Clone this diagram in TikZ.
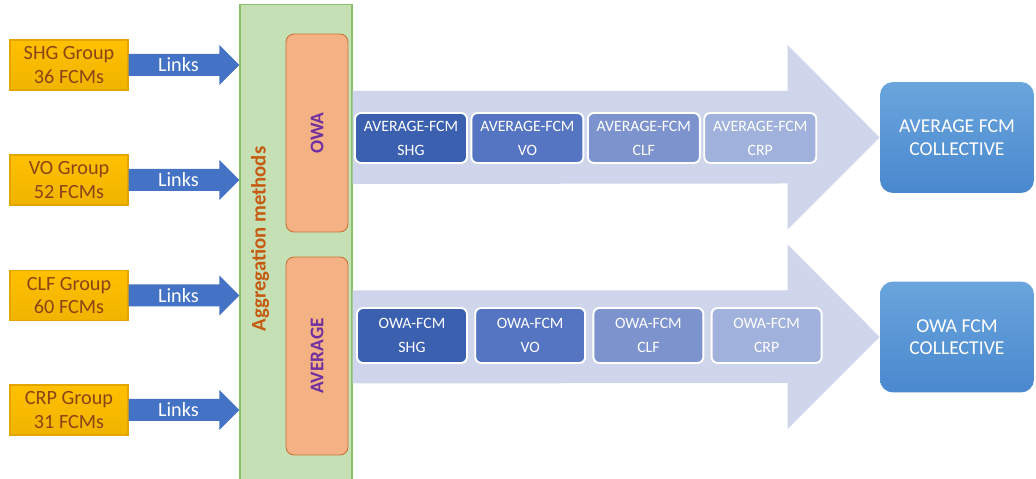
\documentclass[tikz,border=0pt]{standalone}
\usepackage{fontspec}
\setmainfont{Carlito}
\usepackage{tikz}
\usetikzlibrary{positioning,calc}
\definecolor{grpyel}{HTML}{FFC000}
\definecolor{grpyeldk}{HTML}{F0B400}
\definecolor{grpline}{HTML}{E3A600}
\definecolor{grptxt}{HTML}{8A4416}
\definecolor{lnkblue}{HTML}{4472C4}
\definecolor{aggfill}{HTML}{C5E0B4}
\definecolor{aggline}{HTML}{8CBF6B}
\definecolor{aggtxt}{HTML}{C55A11}
\definecolor{methfill}{HTML}{F4B183}
\definecolor{methline}{HTML}{C8733A}
\definecolor{methtxt}{HTML}{7030A0}
\definecolor{flowfill}{HTML}{CFD5EA}
\definecolor{fcmA}{HTML}{3B60AF}
\definecolor{fcmB}{HTML}{5574C1}
\definecolor{fcmC}{HTML}{7D93CE}
\definecolor{fcmD}{HTML}{A0B1DC}
\definecolor{colltop}{HTML}{6AA5DC}
\definecolor{collbot}{HTML}{4A88CF}
\begin{document}
\begin{tikzpicture}[
  x=0.02cm, y=0.02cm,
  font=\fontsize{11.5}{13.6}\selectfont,
  grp/.style={draw=grpline, line width=0.6pt, top color=grpyel, bottom color=grpyeldk,
    text=grptxt, align=center, inner sep=0pt, minimum width=2.36cm, minimum height=1cm},
  lnk/.style={fill=lnkblue},
  lnktxt/.style={text=white, inner sep=0pt},
  panel/.style={draw=aggline, line width=0.6pt, fill=aggfill, minimum width=2.24cm, minimum height=9.5cm},
  meth/.style={draw=methline, line width=0.5pt, fill=methfill, rounded corners=0.16cm,
    minimum width=1.24cm, text=methtxt, font=\fontsize{11}{13}\selectfont\bfseries},
  flow/.style={fill=flowfill},
  fcm/.style={draw=white, line width=1.1pt, rounded corners=0.12cm, text=white, align=center,
    inner sep=0pt, font=\fontsize{9}{13.7}\selectfont},
  fcmtop/.style={fcm, minimum width=2.24cm, minimum height=1cm},
  fcmbot/.style={fcm, minimum width=2.2cm, minimum height=1.1cm},
  coll/.style={rounded corners=0.26cm, top color=colltop, bottom color=collbot, text=white,
    align=center, minimum width=3.08cm, minimum height=2.22cm, font=\fontsize{11.2}{12.8}\selectfont}
]
\useasboundingbox (0,0) rectangle (1036,479);
% ---------------- left column: groups
\node[grp] (shg) at (69,414) {SHG Group\\36 FCMs};
\node[grp] (vo) at (69,299) {VO Group\\52 FCMs};
\node[grp] (clf) at (69,183.5) {CLF Group\\60 FCMs};
\node[grp] (crp) at (69,69) {CRP Group\\31 FCMs};
% ---------------- aggregation panel
\node[panel] (panel) at (296,237) {};
\node[rotate=90, text=aggtxt, font=\fontsize{11.8}{14}\selectfont\bfseries] (aggtitle) at (260,240) {Aggregation methods};
\node[meth, minimum height=3.96cm] (owa) at (317,346) {};
\node[rotate=90, text=methtxt, font=\fontsize{11}{13}\selectfont\bfseries] (owatxt) at (owa) {OWA};
\node[meth, minimum height=3.96cm] (avg) at (317,123) {};
\node[rotate=90, text=methtxt, font=\fontsize{11}{13}\selectfont\bfseries] (avgtxt) at (avg) {AVERAGE};
% ---------------- links
\fill[lnk] ($(shg.east)+(0,11)$) -- ($(shg.east -| panel.west)+(-20,11)$) -- ++(0,9) -- (shg.east -| panel.west) -- ++(-20,-20) -- ++(0,9) -- ($(shg.east)+(0,-11)$) -- cycle;
\fill[lnk] ($(vo.east)+(0,11)$) -- ($(vo.east -| panel.west)+(-20,11)$) -- ++(0,9) -- (vo.east -| panel.west) -- ++(-20,-20) -- ++(0,9) -- ($(vo.east)+(0,-11)$) -- cycle;
\fill[lnk] ($(clf.east)+(0,11)$) -- ($(clf.east -| panel.west)+(-20,11)$) -- ++(0,9) -- (clf.east -| panel.west) -- ++(-20,-20) -- ++(0,9) -- ($(clf.east)+(0,-11)$) -- cycle;
\fill[lnk] ($(crp.east)+(0,11)$) -- ($(crp.east -| panel.west)+(-20,11)$) -- ++(0,9) -- (crp.east -| panel.west) -- ++(-20,-20) -- ++(0,9) -- ($(crp.east)+(0,-11)$) -- cycle;
\node[lnktxt] (shglnk) at ($(shg.east)!0.45!(shg.east -| panel.west)$) {Links};
\node[lnktxt] (volnk) at ($(vo.east)!0.45!(vo.east -| panel.west)$) {Links};
\node[lnktxt] (clflnk) at ($(clf.east)!0.45!(clf.east -| panel.west)$) {Links};
\node[lnktxt] (crplnk) at ($(crp.east)!0.45!(crp.east -| panel.west)$) {Links};
% ---------------- collective maps
\node[coll] (avgcol) at (957,341.5) {AVERAGE FCM\\COLLECTIVE};
\node[coll] (owacol) at (957,142) {OWA FCM\\COLLECTIVE};
% ---------------- big flow arrows
\fill[flow] ($(panel.east |- avgcol)+(0,46.5)$) -- ($(avgcol.west)+(-92,46.5)$) -- ++(0,46) -- (avgcol.west) -- ++(-92,-92) -- ++(0,46) -- ($(panel.east |- avgcol)+(0,-46.5)$) -- cycle;
\fill[flow] ($(panel.east |- owacol)+(0,46.5)$) -- ($(owacol.west)+(-92,46.5)$) -- ++(0,46) -- (owacol.west) -- ++(-92,-92) -- ++(0,46) -- ($(panel.east |- owacol)+(0,-46.5)$) -- cycle;
% ---------------- per-group maps
\node[fcmtop, fill=fcmA] (avgshg) at (411,341) {AVERAGE-FCM\\SHG};
\node[fcmtop, fill=fcmB, right=0.05cm of avgshg] (avgvo) {AVERAGE-FCM\\VO};
\node[fcmtop, fill=fcmC, right=0.05cm of avgvo] (avgclf) {AVERAGE-FCM\\CLF};
\node[fcmtop, fill=fcmD, right=0.05cm of avgclf] (avgcrp) {AVERAGE-FCM\\CRP};
\node[fcmbot, fill=fcmA] (owashg) at (412,143.5) {OWA-FCM\\SHG};
\node[fcmbot, fill=fcmB, right=0.126cm of owashg] (owavo) {OWA-FCM\\VO};
\node[fcmbot, fill=fcmC, right=0.126cm of owavo] (owaclf) {OWA-FCM\\CLF};
\node[fcmbot, fill=fcmD, right=0.126cm of owaclf] (owacrp) {OWA-FCM\\CRP};
\end{tikzpicture}
\end{document}
